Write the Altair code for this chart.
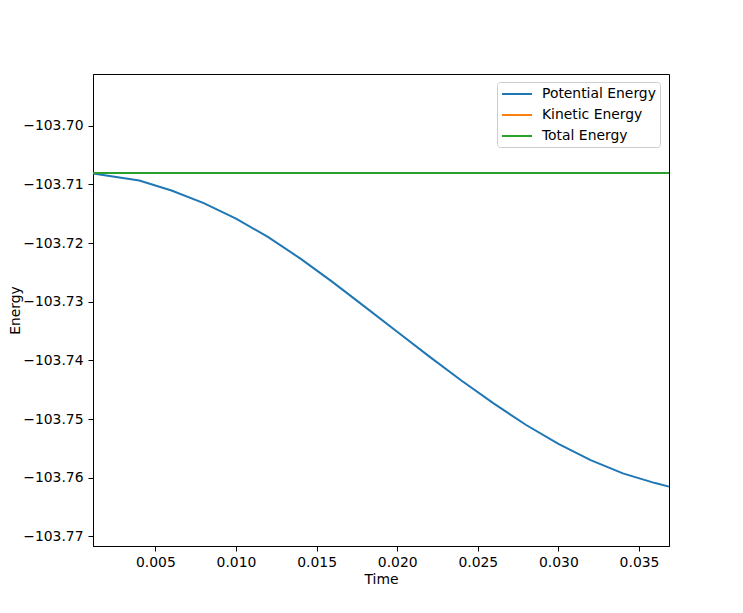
import altair as alt
import pandas as pd

time = [0.00113, 0.004, 0.006, 0.008, 0.010, 0.012, 0.014, 0.016, 0.018,
        0.020, 0.022, 0.024, 0.026, 0.028, 0.030, 0.032, 0.034, 0.036, 0.03686]
potential = [-103.70815, -103.70934, -103.71104, -103.71318, -103.71582,
             -103.71900, -103.72265, -103.72665, -103.73087, -103.73512,
             -103.73935, -103.74347, -103.74737, -103.75100, -103.75423,
             -103.75700, -103.75925, -103.76090, -103.76150]
total = [-103.70806] * len(time)
series = ["Potential Energy", "Kinetic Energy", "Total Energy"]
colors = ["#1f77b4", "#ff7f0e", "#2ca02c"]
x_ticks = [0.005, 0.010, 0.015, 0.020, 0.025, 0.030, 0.035]
y_ticks = [-103.77, -103.76, -103.75, -103.74, -103.73, -103.72, -103.71, -103.70]

rows = []
for t, p in zip(time, potential):
    rows.append({"Time": t, "Energy": p, "series": series[0], "o": 0})
for t, e in zip(time, total):
    rows.append({"Time": t, "Energy": e, "series": series[2], "o": 2})
df = pd.DataFrame(rows)

font = "DejaVu Sans"
fs = 13.9
chart = alt.Chart(df).mark_line(strokeWidth=2).encode(
    x=alt.X("Time:Q", scale=alt.Scale(domain=[0.00113, 0.03686], nice=False, zero=False),
            axis=alt.Axis(values=x_ticks, format=".3f", title="Time", grid=False,
                          tickSize=5, labelPadding=4, titlePadding=4)),
    y=alt.Y("Energy:Q", scale=alt.Scale(domain=[-103.77162, -103.69119], nice=False, zero=False),
            axis=alt.Axis(values=y_ticks, title="Energy", grid=False, tickSize=5,
                          labelPadding=5, titleX=-71,
                          labelExpr="replace(format(datum.value, '.2f'), '-', '\u2212')")),
    color=alt.Color("series:N", scale=alt.Scale(domain=series, range=colors),
                    legend=alt.Legend(title=None, orient="none", legendX=404, legendY=8,
                                      symbolType="M-2.143,0L2.143,0", symbolSize=196,
                                      symbolStrokeWidth=2, symbolOffset=8,
                                      labelFontSize=fs, labelFont=font, labelColor="black",
                                      strokeColor="#cccccc", fillColor="white", padding=4,
                                      cornerRadius=3, rowPadding=6, labelOffset=17)),
    order="o:Q",
    detail="series:N",
).properties(
    width=576, height=472,
    autosize=alt.AutoSizeParams(type="none"),
    padding={"left": 85, "top": 66, "right": 60, "bottom": 45},
).configure_view(
    stroke="black", strokeWidth=1
).configure_axis(
    domainColor="black", tickColor="black", labelColor="black", titleColor="black",
    labelFont=font, titleFont=font, labelFontSize=fs, titleFontSize=fs,
    titleFontWeight="normal", domainWidth=1, tickWidth=1
)

chart.save("out.html", embed_options={"renderer": "svg", "actions": False})
